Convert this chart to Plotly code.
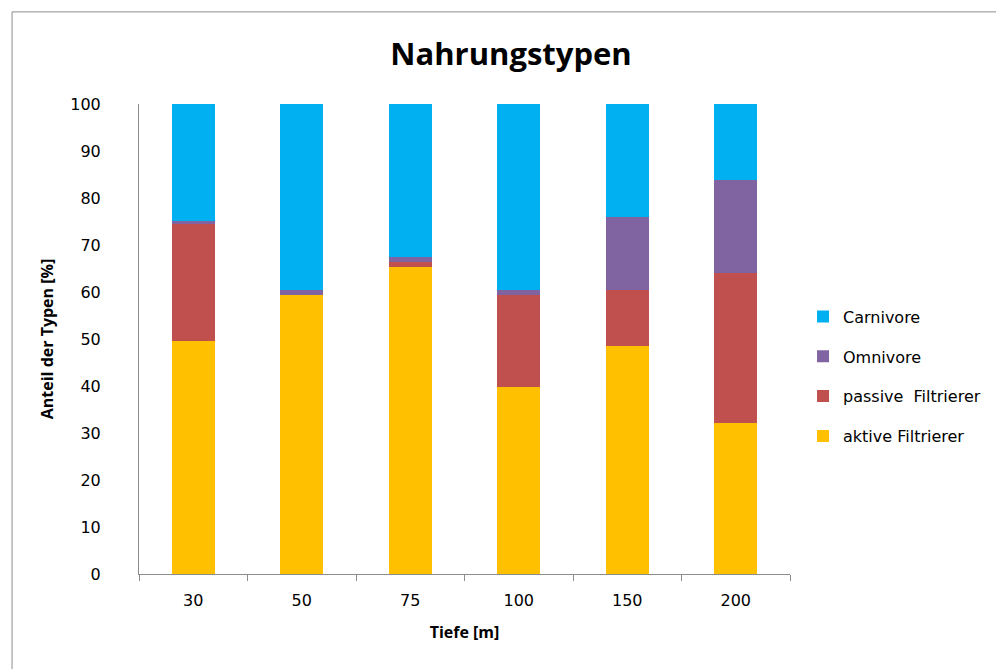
import plotly.graph_objects as go

# Tiefe [m] categories
depths = ["30", "50", "75", "100", "150", "200"]

# Anteil [%] per Nahrungstyp
aktive_filtrierer = [49.6, 59.4, 65.3, 39.7, 48.5, 32.1]
passive_filtrierer = [24.9, 0.0, 1.1, 19.7, 11.9, 31.9]
omnivore = [0.6, 1.0, 1.0, 1.0, 15.5, 19.9]
carnivore = [24.9, 39.6, 32.6, 39.6, 24.1, 16.1]

series = [
    ("aktive Filtrierer", aktive_filtrierer, "#FFC000"),
    ("passive  Filtrierer", passive_filtrierer, "#C0504D"),
    ("Omnivore", omnivore, "#8064A2"),
    ("Carnivore", carnivore, "#00B0F0"),
]

FONT = "DejaVu Sans, Verdana, sans-serif"
TITLE_FONT = "Open Sans, sans-serif"

fig = go.Figure()

# legend lists the top of the stack first
for i, (name, vals, color) in enumerate(series):
    fig.add_trace(go.Bar(
        x=depths,
        y=vals,
        name=name,
        legendgroup=name,
        legendrank=len(series) - i,
        marker=dict(color=color, line=dict(width=0)),
        width=0.4,
    ))

# page has an 8px body margin, so the figure is a bit smaller than the window
fig.update_layout(
    barmode="stack",
    width=996,
    height=661,
    title=dict(
        text="<b>Nahrungstypen</b>",
        font=dict(size=31, color="#000000", family=TITLE_FONT),
        x=0.505, xanchor="center",
        y=0.93, yanchor="middle",
    ),
    xaxis=dict(
        title=dict(text="<b>Tiefe [m]</b>",
                   font=dict(size=16, color="#000000", family=TITLE_FONT),
                   standoff=17),
        type="category",
        showline=True,
        linecolor="#8c8c8c",
        linewidth=1,
        ticks="outside",
        tickson="boundaries",
        ticklen=6,
        tickcolor="#8c8c8c",
        ticklabelstandoff=12,
        tickfont=dict(size=16, color="#000000", family=FONT),
        showgrid=False,
        zeroline=False,
    ),
    yaxis=dict(
        title=dict(text="<b>Anteil der Typen [%]</b>",
                   font=dict(size=16, color="#000000", family=TITLE_FONT),
                   standoff=12),
        range=[0, 100],
        dtick=10,
        showline=True,
        linecolor="#8c8c8c",
        linewidth=1,
        ticks="",
        ticklabelstandoff=34,
        tickfont=dict(size=16, color="#000000", family=FONT),
        showgrid=False,
        zeroline=False,
    ),
    legend=dict(
        traceorder="grouped",
        x=1.02, xanchor="left",
        y=0.42, yanchor="middle",
        font=dict(size=16, color="#000000", family=FONT),
        tracegroupgap=16,
        itemwidth=30,
    ),
    plot_bgcolor="#ffffff",
    paper_bgcolor="#ffffff",
    margin=dict(l=131, r=214, t=96, b=95),
    shapes=[dict(
        type="rect", xref="paper", yref="paper",
        x0=-0.195, x1=1.4, y0=-0.3, y1=1.196,
        line=dict(color="#8c8c8c", width=1),
        fillcolor="rgba(0,0,0,0)",
        layer="below",
    )],
)

fig.write_html("out.html")
